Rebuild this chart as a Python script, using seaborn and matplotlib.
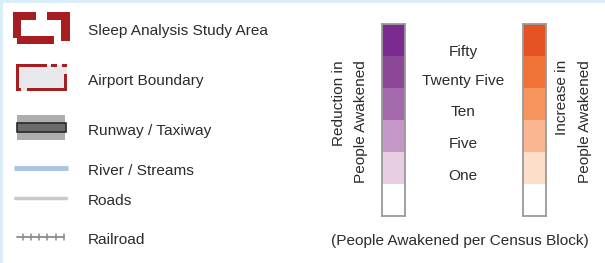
import numpy as np
import matplotlib
matplotlib.use("Agg")
import matplotlib.pyplot as plt
from matplotlib.colors import ListedColormap
from matplotlib.patches import Rectangle
import seaborn as sns

# ---- data ----
legend_labels = ["Sleep Analysis Study Area", "Airport Boundary", "Runway / Taxiway",
                 "River / Streams", "Roads", "Railroad"]
level_labels = ["Fifty", "Twenty Five", "Ten", "Five", "One"]
class_index = [5, 4, 3, 2, 1, 0]           # top -> bottom of each colour bar
purple_colors = ["#FFFFFF", "#E8CDE3", "#C497C6", "#A469AC", "#8A4897", "#7B2B8F"]
orange_colors = ["#FFFFFF", "#FDDEC9", "#F9B690", "#F6955E", "#F07236", "#E55324"]
reduction_title = ["Reduction in", "People Awakened"]
increase_title = ["Increase in", "People Awakened"]
footer = "(People Awakened per Census Block)"

sns.set_style("white")
plt.rcParams["font.family"] = ["Liberation Sans", "DejaVu Sans"]

W, H = 605, 263
fig = plt.figure(figsize=(W / 100, H / 100), dpi=100)
fig.patch.set_facecolor("white")

ax = fig.add_axes([0, 0, 1, 1])
ax.set_xlim(0, W)
ax.set_ylim(H, 0)
ax.axis("off")

# light blue frame strips (top and left)
blue = "#DAEEFA"
ax.add_patch(Rectangle((0, 0), W, 3, color=blue, lw=0))
ax.add_patch(Rectangle((0, 0), 3, H, color=blue, lw=0))

txt_color = "#2B2B2B"
fs = 11.1
red = "#A71E22"

# Sleep Analysis Study Area icon (thick bracket outline)
for (x, y, w, h) in [(12.5, 12, 23, 8), (12.5, 12, 8, 26), (17, 36, 37, 7.5),
                     (46.5, 12, 23, 8), (61, 12, 8.5, 29)]:
    ax.add_patch(Rectangle((x, y), w, h, color=red, lw=0))

# Airport Boundary icon
ax.add_patch(Rectangle((16, 64.5), 51, 26, color="#E9E9EB", lw=0))
for (x, y, w, h) in [(15.5, 64, 31, 3), (51, 64, 6, 3), (62, 64, 5, 3),
                     (15.5, 64, 3, 24), (15.5, 88, 5.5, 3), (27, 88, 40, 3),
                     (64, 74, 3, 17)]:
    ax.add_patch(Rectangle((x, y), w, h, color=red, lw=0))

# Runway / Taxiway icon
ax.add_patch(Rectangle((17, 114.5), 48, 25, color="#AEAEB1", lw=0))
ax.add_patch(Rectangle((17, 123), 48.5, 9, facecolor="#6B6B6D", edgecolor="#2A2A2A", lw=1.2))

# River / Streams
ax.plot([14, 68], [168, 168], color="#A8C4E6", lw=3.5, solid_capstyle="butt")
# Roads
ax.plot([15, 66], [198, 198], color="#CACACA", lw=2.5, solid_capstyle="round")
# Railroad
ax.plot([17, 64], [237.3, 237.3], color="#8A8A8A", lw=1.3)
for tx in [23.3, 31.3, 39.3, 47.3, 55.5, 63.5]:
    ax.plot([tx, tx], [234.3, 240.3], color="#8A8A8A", lw=1.1)

# legend labels
baselines = [35.5, 85, 135, 175, 205, 244]
for lab, yb in zip(legend_labels, baselines):
    ax.text(88, yb, lab, fontsize=fs, color=txt_color, ha="left", va="baseline")

# level labels
level_base = [56, 85, 116, 148, 180]
for lab, yb in zip(level_labels, level_base):
    ax.text(463, yb, lab, fontsize=fs, color=txt_color, ha="center", va="baseline")

# rotated titles
ax.text(339, 60, reduction_title[0], fontsize=fs, color=txt_color, rotation=90, ha="center", va="top")
ax.text(361.5, 60, reduction_title[1], fontsize=fs, color=txt_color, rotation=90, ha="center", va="top")
ax.text(561.5, 60, increase_title[0], fontsize=fs, color=txt_color, rotation=90, ha="center", va="top")
ax.text(585, 60, increase_title[1], fontsize=fs, color=txt_color, rotation=90, ha="center", va="top")

ax.text(460, 245, footer, fontsize=fs, color=txt_color, ha="center", va="baseline")

# colour bars drawn with seaborn heatmaps
def colorbar_axes(x0, x1, y0, y1):
    return fig.add_axes([x0 / W, (H - y1) / H, (x1 - x0) / W, (y1 - y0) / H])

data = np.array(class_index, dtype=float).reshape(-1, 1)
for (x0, x1), cols in [((382, 405), purple_colors), ((522.5, 546), orange_colors)]:
    cax = colorbar_axes(x0, x1, 24, 216)
    sns.heatmap(data, ax=cax, cmap=ListedColormap(cols), vmin=-0.5, vmax=5.5,
                cbar=False, xticklabels=False, yticklabels=False, linewidths=0)
    for sp in cax.spines.values():
        sp.set_visible(True)
        sp.set_color("#9A9A9A")
        sp.set_linewidth(1.3)

fig.savefig("out.png", dpi=100, facecolor="white")
